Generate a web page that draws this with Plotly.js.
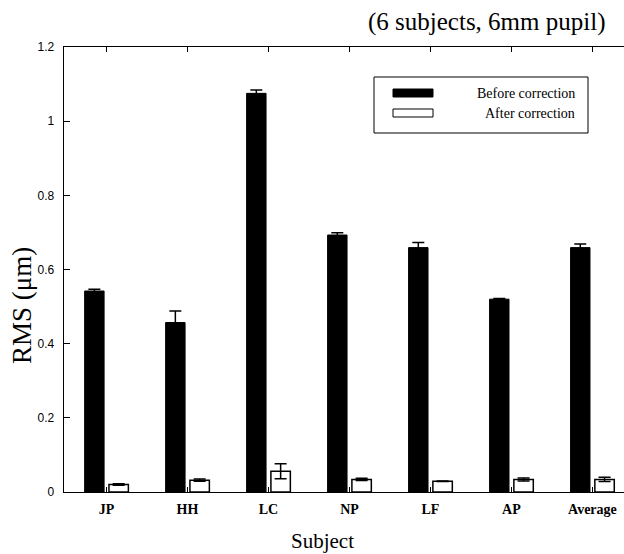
<!DOCTYPE html>
<html>
<head>
<meta charset="utf-8">
<script src="https://cdn.plot.ly/plotly-3.0.1.min.js"></script>
<style>
  html, body { margin: 0; padding: 0; background: #fff; }
  #chart { width: 624px; height: 554px; }
</style>
</head>
<body>
<div id="chart"></div>
<script>
const subjects = ["JP", "HH", "LC", "NP", "LF", "AP", "Average"];
const beforeRMS = [0.542, 0.457, 1.075, 0.693, 0.659, 0.520, 0.659];
const beforeErr = [0.005, 0.031, 0.009, 0.006, 0.014, 0.002, 0.010];
const afterRMS = [0.020, 0.032, 0.056, 0.034, 0.029, 0.034, 0.034];
const afterErr = [0.002, 0.003, 0.020, 0.003, 0.001, 0.004, 0.006];
const seriesNames = ["Before correction", "After correction"];
const titleText = "(6 subjects, 6mm pupil)";
const yTitleText = "RMS (\u03bcm)";
const xTitleText = "Subject";

const beforeColor = "#000000";
const afterColor = "#ffffff";
const serif = "'Liberation Serif', 'Times New Roman', serif";
const sans = "'Liberation Sans', Arial, sans-serif";

const traces = [
  {
    type: "bar", name: seriesNames[0], x: subjects, y: beforeRMS,
    marker: { color: beforeColor, line: { color: "#000", width: 1 } },
    error_y: { type: "data", array: beforeErr, visible: true, color: "#000", thickness: 1.5, width: 6 },
    showlegend: false, hoverinfo: "x+y"
  },
  {
    type: "bar", name: seriesNames[1], x: subjects, y: afterRMS,
    marker: { color: afterColor, line: { color: "#000", width: 1.5 } },
    error_y: { type: "data", array: afterErr, visible: true, color: "#000", thickness: 1.5, width: 6 },
    showlegend: false, hoverinfo: "x+y"
  }
];

// plot-area pixel helpers for the custom legend (paper coords)
const L = 64, T = 47, W = 560, H = 445;
const px = v => (v - L) / W;
const py = v => (T + H - v) / H;

const layout = {
  width: 624, height: 554,
  margin: { l: L, r: 624 - L - W, t: T, b: 554 - T - H },
  paper_bgcolor: "#fff", plot_bgcolor: "#fff",
  barmode: "group", bargap: 0.4, bargroupgap: 0.2,
  showlegend: false,
  xaxis: {
    type: "category", range: [-0.525, 6.39],
    showline: true, linecolor: "#000", linewidth: 1.3, mirror: "ticks",
    ticks: "inside", ticklen: 5, tickcolor: "#000", tickwidth: 1,
    showgrid: false, zeroline: false,
    tickfont: { family: serif, size: 14, color: "#000", weight: "bold" },
    ticklabelstandoff: 4
  },
  yaxis: {
    range: [0, 1.2], dtick: 0.2,
    showline: true, linecolor: "#000", linewidth: 1.3, mirror: false,
    ticks: "inside", ticklen: 6, tickcolor: "#000", tickwidth: 1,
    showgrid: false, zeroline: false,
    tickfont: { family: sans, size: 12, color: "#000" },
    ticklabelstandoff: 6
  },
  annotations: [
    { text: titleText, xref: "paper", yref: "paper", x: px(607), y: py(22),
      xanchor: "right", yanchor: "middle", showarrow: false,
      font: { family: serif, size: 25, color: "#000" } },
    { text: yTitleText, xref: "paper", yref: "paper", x: px(22), y: py(306),
      xanchor: "center", yanchor: "middle", textangle: -90, showarrow: false,
      font: { family: serif, size: 27, color: "#000" } },
    { text: xTitleText, xref: "paper", yref: "paper", x: px(322), y: py(541),
      xanchor: "center", yanchor: "middle", showarrow: false,
      font: { family: serif, size: 21, color: "#000" } },
    { text: seriesNames[0], xref: "paper", yref: "paper", x: px(577), y: py(93),
      xanchor: "right", yanchor: "middle", showarrow: false,
      font: { family: serif, size: 14, color: "#000" } },
    { text: seriesNames[1], xref: "paper", yref: "paper", x: px(577), y: py(113),
      xanchor: "right", yanchor: "middle", showarrow: false,
      font: { family: serif, size: 14, color: "#000" } }
  ],
  shapes: [
    { type: "rect", xref: "paper", yref: "paper", x0: px(374), x1: px(588), y0: py(133), y1: py(77),
      line: { color: "#000", width: 1 }, fillcolor: "rgba(0,0,0,0)" },
    { type: "rect", xref: "paper", yref: "paper", x0: px(393), x1: px(433), y0: py(97), y1: py(89),
      line: { color: "#000", width: 1 }, fillcolor: beforeColor },
    { type: "rect", xref: "paper", yref: "paper", x0: px(393), x1: px(433), y0: py(117), y1: py(109),
      line: { color: "#000", width: 1 }, fillcolor: afterColor }
  ]
};

Plotly.newPlot("chart", traces, layout, { displayModeBar: false, staticPlot: true });
</script>
</body>
</html>
